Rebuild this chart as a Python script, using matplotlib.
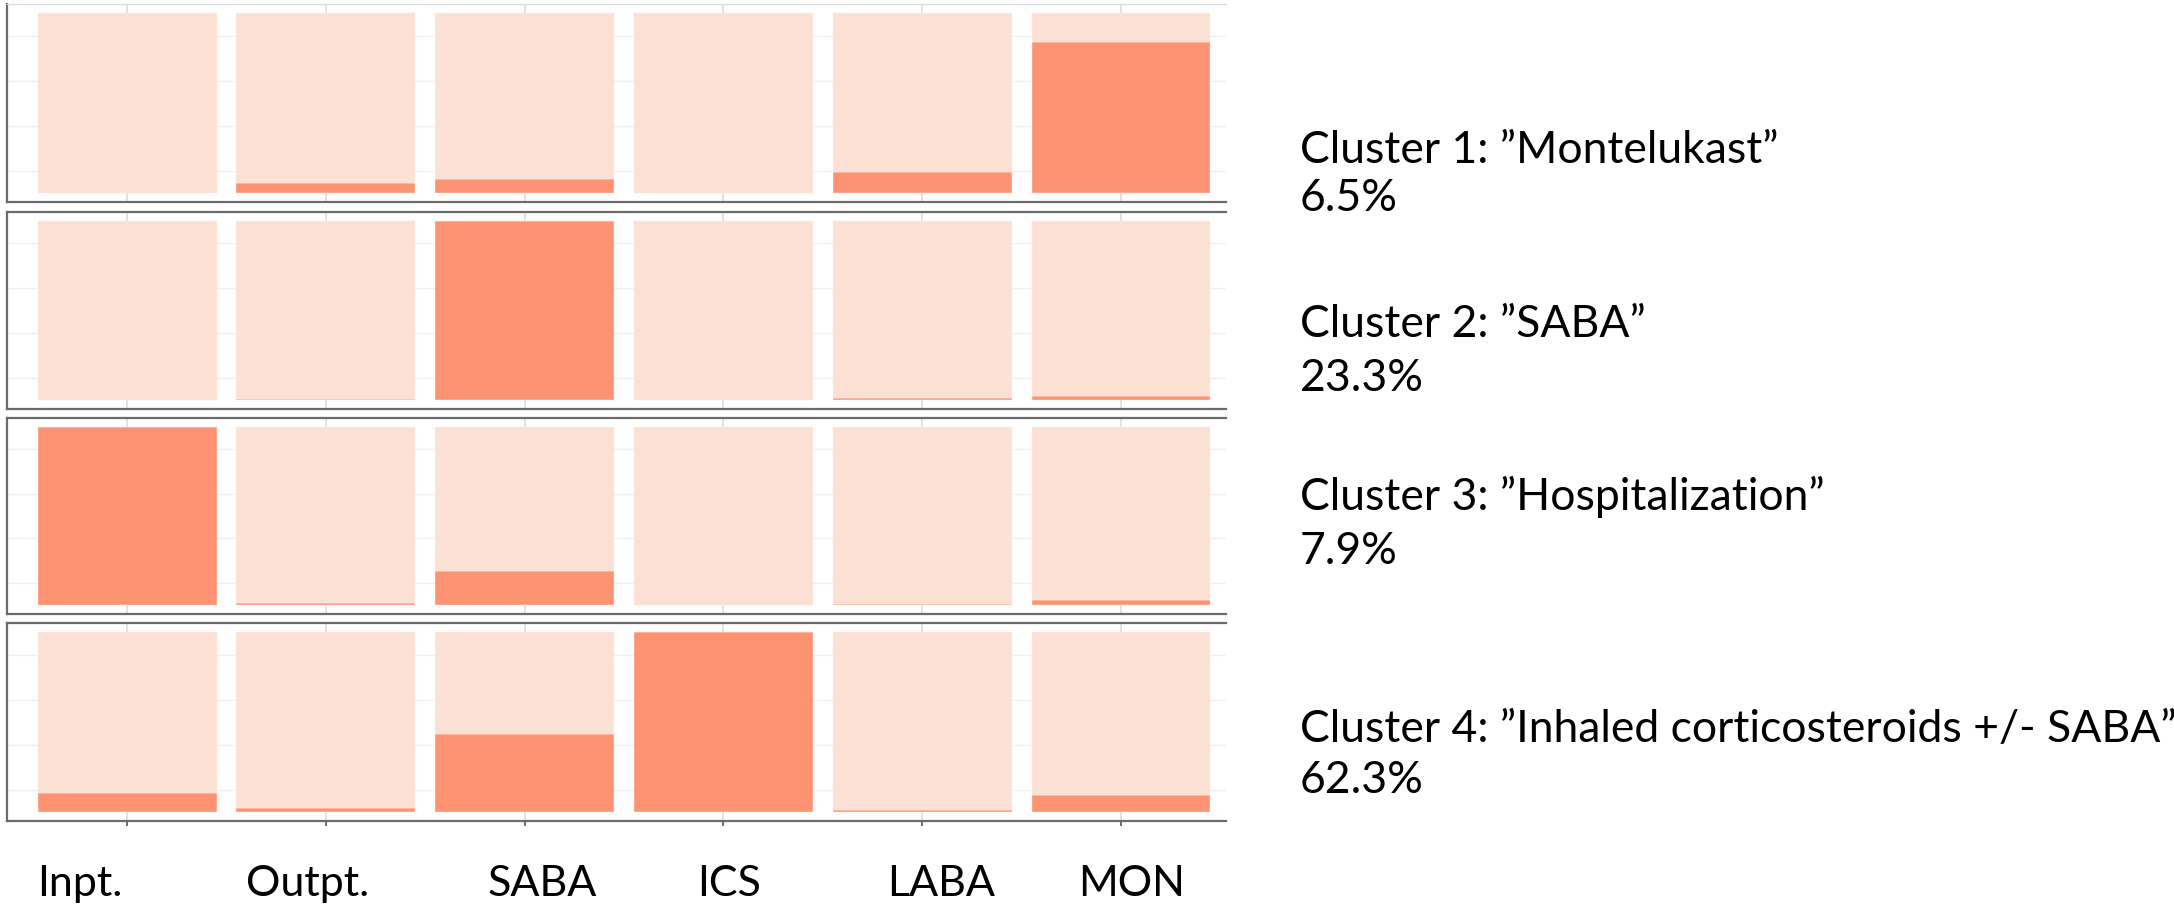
import numpy as np
import matplotlib.pyplot as plt
from matplotlib.transforms import ScaledTranslation

plt.rcParams['font.family'] = ['Lato', 'DejaVu Sans']

categories = ['Inpt.', 'Outpt.', 'SABA', 'ICS', 'LABA', 'MON']
cluster_names = ['Cluster 1: \u201dMontelukast\u201d',
                 'Cluster 2: \u201dSABA\u201d',
                 'Cluster 3: \u201dHospitalization\u201d',
                 'Cluster 4: \u201dInhaled corticosteroids +/- SABA\u201d']
cluster_share = ['6.5%', '23.3%', '7.9%', '62.3%']

# share of patients with the event in each cluster (dark part of each bar)
cluster1 = [0.0, 0.054, 0.076, 0.0, 0.116, 0.841]
cluster2 = [0.0, 0.006, 1.0, 0.0, 0.009, 0.024]
cluster3 = [1.0, 0.011, 0.191, 0.0, 0.005, 0.031]
cluster4 = [0.106, 0.022, 0.431, 1.0, 0.013, 0.096]
clusters = [cluster1, cluster2, cluster3, cluster4]

dark = '#fd9373'
light = '#fde0d4'
border = '#6b6b6b'

W, H = 2174, 906
fig = plt.figure(figsize=(W / 100, H / 100), dpi=100)

# panel top/bottom in pixels from the top of the image
panels_px = [(4, 202), (212, 409), (418, 614), (623, 821)]
left_px, right_px = 7, 1226
# text baselines for the cluster descriptions
name_base = [163, 337, 510, 742]
share_base = [211, 391, 564, 793]
label_shift = [-47, -18, 18, 6, 19, 11]

x = np.arange(len(categories))
for k, (top, bot) in enumerate(panels_px):
    ax = fig.add_axes([left_px / W, (H - bot) / H, (right_px - left_px) / W, (bot - top) / H])
    vals = np.array(clusters[k])
    ax.bar(x, vals, width=0.9, color=dark, edgecolor='#fff0ea', linewidth=0.3, zorder=2)
    ax.bar(x, 1 - vals, bottom=vals, width=0.9, color=light, edgecolor='#fff0ea', linewidth=0.3, zorder=2)
    ax.set_xlim(-0.604, 5.528)
    ax.set_ylim(-0.05, 1.05)
    ax.set_yticks([0.125, 0.375, 0.625, 0.875])
    ax.set_xticks(x)
    ax.yaxis.grid(True, color='#f0f0f0', linewidth=1.0)
    ax.xaxis.grid(True, color='#e2e2e2', linewidth=1.4)
    ax.set_axisbelow(True)
    ax.tick_params(axis='y', length=0, labelleft=False)
    for s in ['left', 'bottom', 'top']:
        ax.spines[s].set_color(border)
        ax.spines[s].set_linewidth(1.6)
    ax.spines['right'].set_visible(False)
    if k == 0:
        ax.spines['top'].set_color('#dcdcdc')
        ax.spines['top'].set_linewidth(1.0)
    if k == 3:
        ax.set_xticklabels(categories, fontsize=31)
        ax.tick_params(axis='x', length=3.5, width=1.2, color='#555555', pad=28)
        for lab, dx in zip(ax.get_xticklabels(), label_shift):
            lab.set_transform(lab.get_transform() + ScaledTranslation(dx / 100, 0, fig.dpi_scale_trans))
    else:
        ax.tick_params(axis='x', length=0, labelbottom=False)

    fig.text(1300 / W, 1 - name_base[k] / H, cluster_names[k], fontsize=32, va='baseline', ha='left')
    fig.text(1300 / W, 1 - share_base[k] / H, cluster_share[k], fontsize=32, va='baseline', ha='left')

fig.savefig('out.png', dpi=100, facecolor='white')
